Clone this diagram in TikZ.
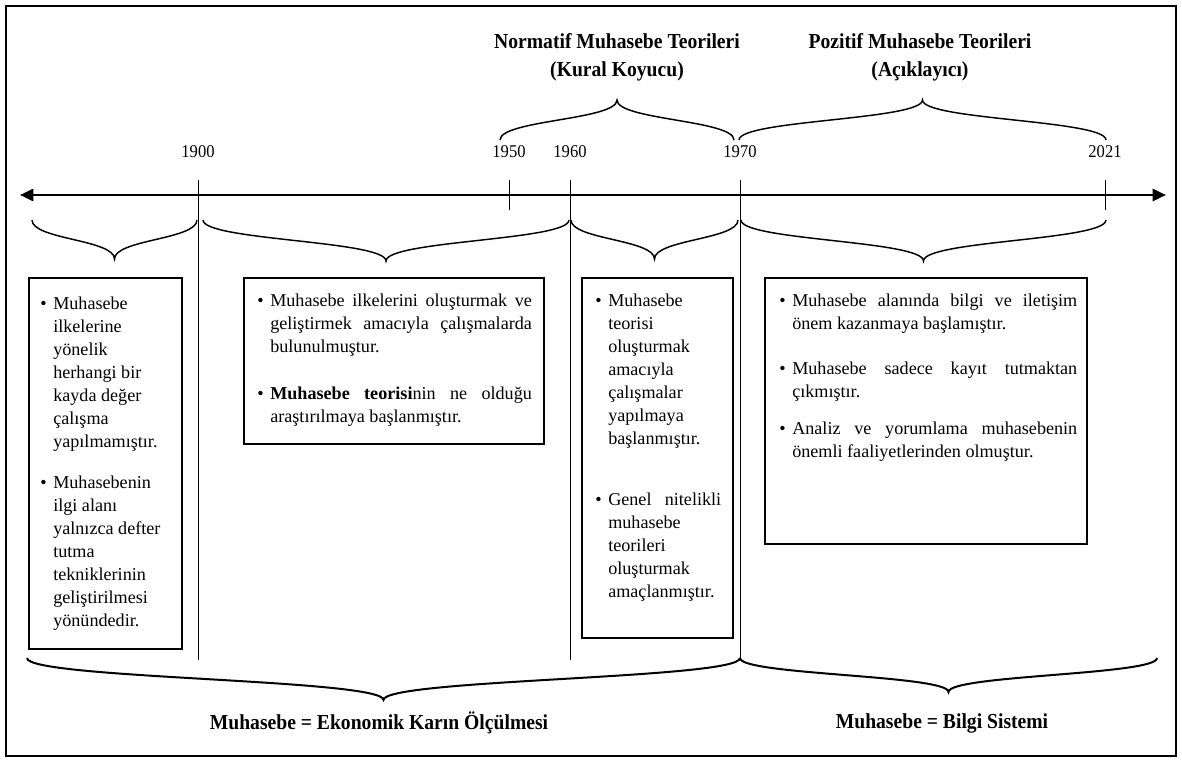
\documentclass[tikz,border=0pt]{standalone}
\usepackage{fontspec}
\setmainfont{Liberation Serif}
\newfontfamily\condfont[FakeStretch=0.92]{Liberation Serif}
\usetikzlibrary{arrows.meta}

\hyphenpenalty=10000
\tolerance=9999

\newlength{\bulind}
\setlength{\bulind}{9.75pt}
\newcommand{\bul}{\par\noindent\hangindent=\bulind\hangafter=1\makebox[\bulind][l]{\textbullet}}
\newcommand{\wbrace}[5][]{\draw[wbrace,#1] (#2,#4) .. controls (#2,{(#4+#5)/2}) and ({(#2+#3)/2},{(#4+#5)/2}) .. ({(#2+#3)/2},#5) .. controls ({(#2+#3)/2},{(#4+#5)/2}) and (#3,{(#4+#5)/2}) .. (#3,#4);}

\tikzset{
  yearlabel/.style={font=\condfont\fontsize{13.5}{15}\selectfont},
  headlabel/.style={font=\condfont\bfseries\fontsize{16}{21}\selectfont, align=center},
  infobox/.style={draw, line width=1.2pt, inner sep=0pt, anchor=north west},
  infotext/.style={inner sep=0pt, anchor=north west, align=justify, font=\fontsize{13.6}{17.25}\selectfont},
  wbrace/.style={line width=1.1pt},
  axisline/.style={line width=2pt, {Triangle[length=10pt,width=9pt]}-{Triangle[length=10pt,width=9pt]}},
  tickline/.style={line width=0.6pt}
}

\begin{document}
\begin{tikzpicture}[x=0.75pt, y=-0.75pt]
\useasboundingbox (0,0) rectangle (1182,763);
\draw[line width=0.8pt] (6,6) rectangle (1176,756);

\coordinate (axl) at (20,195);
\coordinate (axr) at (1166,195);
\draw[axisline] (axl) -- (axr);

\foreach \yr/\xx/\yb in {1900/198/660, 1950/509/210, 1960/570/660, 1970/740/660, 2021/1105/210} {
  \coordinate (t\yr) at (\xx,180);
  \coordinate (e\yr) at (\xx,\yb);
  \draw[tickline] (t\yr) -- (e\yr);
  \node[yearlabel] (y\yr) at (\xx,152) {\yr};
}

\node[headlabel] (norm) at (617,57) {Normatif Muhasebe Teorileri\\(Kural Koyucu)};
\node[headlabel] (poz) at (920,57) {Pozitif Muhasebe Teorileri\\(Açıklayıcı)};

\wbrace{500}{734}{140}{100}
\wbrace{739}{1106}{140}{100}

\wbrace{32}{197}{220}{259}
\wbrace{203}{569}{220}{261}
\wbrace{571}{738}{220}{259}
\wbrace{741}{1106}{220}{261}

\node[infobox, minimum width=114.75pt, minimum height=278.25pt] (b1) at (28,277) {};
\node[infobox, minimum width=225pt, minimum height=124.5pt] (b2) at (243,277) {};
\node[infobox, minimum width=113.25pt, minimum height=270pt] (b3) at (581,277) {};
\node[infobox, minimum width=241.5pt, minimum height=199.5pt] (b4) at (764,277) {};

\node[infotext, text width=101pt] (t1) at ([shift={(12,9)}]b1.north west) {%
\bul Muhasebe\newline ilkelerine\newline yönelik\newline herhangi bir\newline kayda değer\newline çalışma\newline yapılmamıştır.\par\vspace{14pt}%
\bul Muhasebenin\newline ilgi alanı\newline yalnızca defter\newline tutma\newline tekniklerinin\newline geliştirilmesi\newline yönündedir.\par};

\node[infotext, text width=206pt] (t2) at ([shift={(14,6)}]b2.north west) {%
\bul Muhasebe ilkelerini oluşturmak ve\linebreak geliştirmek amacıyla çalışmalarda\linebreak bulunulmuştur.\par\vspace{18pt}%
\bul \textbf{Muhasebe teorisi}nin ne olduğu\linebreak araştırılmaya başlanmıştır.\par};

\node[infotext, text width=94.5pt] (t3) at ([shift={(14,6)}]b3.north west) {%
\bul Muhasebe\newline teorisi\newline oluşturmak\newline amacıyla\newline çalışmalar\newline yapılmaya\newline başlanmıştır.\par\vspace{29pt}%
\bul Genel nitelikli\linebreak muhasebe\newline teorileri\newline oluşturmak\newline amaçlanmıştır.\par};

\node[infotext, text width=223.5pt] (t4) at ([shift={(15,6)}]b4.north west) {%
\bul Muhasebe alanında bilgi ve iletişim\linebreak önem kazanmaya başlamıştır.\par\vspace{16.5pt}%
\bul Muhasebe sadece kayıt tutmaktan\linebreak çıkmıştır.\par\vspace{11pt}%
\bul Analiz ve yorumlama muhasebenin\linebreak önemli faaliyetlerinden olmuştur.\par};

\wbrace[line width=1.5pt]{27}{740}{658}{700}
\wbrace[line width=1.5pt]{740}{1157}{658}{692}

\node[headlabel] (eko) at (379,723) {Muhasebe = Ekonomik Karın Ölçülmesi};
\node[headlabel] (bil) at (942,723) {Muhasebe = Bilgi Sistemi};
\end{tikzpicture}
\end{document}
